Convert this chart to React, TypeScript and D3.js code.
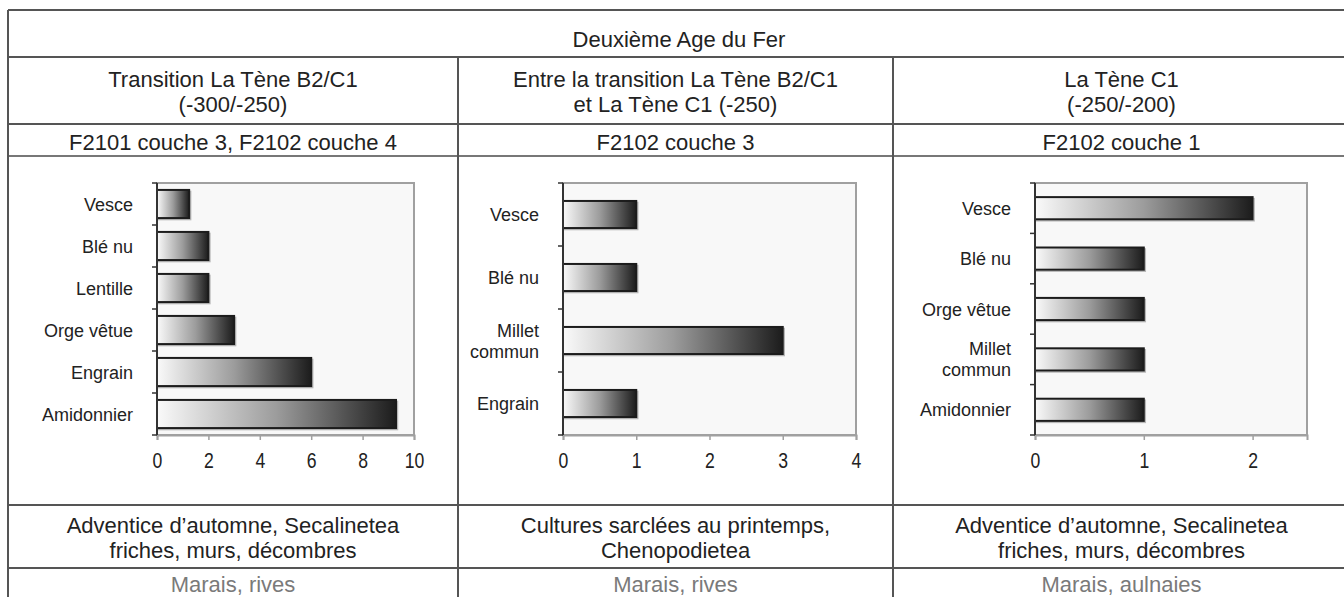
import React, { useEffect, useRef } from 'react';
import * as d3 from 'd3';

// Table texts
const titleText = 'Deuxième Age du Fer';
const periodLabels = [
  ['Transition La Tène B2/C1', '(-300/-250)'],
  ['Entre la transition La Tène B2/C1', 'et La Tène C1 (-250)'],
  ['La Tène C1', '(-250/-200)'],
];
const contextLabels = ['F2101 couche 3, F2102 couche 4', 'F2102 couche 3', 'F2102 couche 1'];
const ecologyLabels = [
  ['Adventice d’automne, Secalinetea', 'friches, murs, décombres'],
  ['Cultures sarclées au printemps,', 'Chenopodietea'],
  ['Adventice d’automne, Secalinetea', 'friches, murs, décombres'],
];
const habitatLabels = ['Marais, rives', 'Marais, rives', 'Marais, aulnaies'];

// Chart data
const chart1Categories = ['Vesce', 'Blé nu', 'Lentille', 'Orge vêtue', 'Engrain', 'Amidonnier'];
const chart1Values = [1.25, 2, 2, 3, 6, 9.3];
const chart1Ticks = [0, 2, 4, 6, 8, 10];
const chart1Max = 10;

const chart2Categories = ['Vesce', 'Blé nu', 'Millet\ncommun', 'Engrain'];
const chart2Values = [1, 1, 3, 1];
const chart2Ticks = [0, 1, 2, 3, 4];
const chart2Max = 4;

const chart3Categories = ['Vesce', 'Blé nu', 'Orge vêtue', 'Millet\ncommun', 'Amidonnier'];
const chart3Values = [2, 1, 1, 1, 1];
const chart3Ticks = [0, 1, 2];
const chart3Max = 2.5;

const W = 1344;
const H = 597;
const FONT = '"Liberation Sans", Arial, sans-serif';

export default function App() {
  const svgRef = useRef<SVGSVGElement>(null);

  useEffect(() => {
    if (!svgRef.current) return;
    const svg = d3.select(svgRef.current);
    svg.selectAll('*').remove();

    // table geometry
    const colX = [8, 458, 893, 1350];
    const rowY = [10, 57, 124, 156, 505, 568];
    const lineColor = '#555';

    const defs = svg.append('defs');
    const grad = defs.append('linearGradient')
      .attr('id', 'barGrad')
      .attr('x1', '0').attr('x2', '1').attr('y1', '0').attr('y2', '0');
    grad.append('stop').attr('offset', '0%').attr('stop-color', '#fafafa');
    grad.append('stop').attr('offset', '50%').attr('stop-color', '#9c9c9c');
    grad.append('stop').attr('offset', '100%').attr('stop-color', '#1c1c1c');

    const table = svg.append('g');

    // horizontal rules
    rowY.forEach((y, i) => {
      table.append('line')
        .attr('x1', colX[0]).attr('x2', colX[3])
        .attr('y1', y).attr('y2', y)
        .attr('stroke', i === 3 ? '#777' : lineColor)
        .attr('stroke-width', 2);
    });
    // outer left border
    table.append('line')
      .attr('x1', colX[0]).attr('x2', colX[0])
      .attr('y1', rowY[0]).attr('y2', H)
      .attr('stroke', lineColor).attr('stroke-width', 2);
    // column separators (below title row)
    [colX[1], colX[2]].forEach(x => {
      table.append('line')
        .attr('x1', x).attr('x2', x)
        .attr('y1', rowY[1]).attr('y2', H)
        .attr('stroke', lineColor).attr('stroke-width', 2);
    });

    const addText = (x: number, y: number, txt: string, size: number, color = '#222') =>
      table.append('text')
        .attr('x', x).attr('y', y)
        .attr('text-anchor', 'middle')
        .attr('font-family', FONT)
        .attr('font-size', size)
        .attr('fill', color)
        .text(txt);

    addText((colX[0] + colX[3]) / 2, 47, titleText, 22);

    for (let c = 0; c < 3; c++) {
      const cx = (colX[c] + colX[c + 1]) / 2;
      addText(cx, 87, periodLabels[c][0], 22);
      addText(cx, 112, periodLabels[c][1], 22);
      addText(cx, 150, contextLabels[c], 22);
      addText(cx, 533, ecologyLabels[c][0], 22);
      addText(cx, 558, ecologyLabels[c][1], 22);
      addText(cx, 592, habitatLabels[c], 22, '#7a7a7a');
    }

    // charts
    const charts = [
      { cats: chart1Categories, vals: chart1Values, ticks: chart1Ticks, max: chart1Max, left: 157, right: 414, pad: 0.33 },
      { cats: chart2Categories, vals: chart2Values, ticks: chart2Ticks, max: chart2Max, left: 563, right: 856, pad: 0.57 },
      { cats: chart3Categories, vals: chart3Values, ticks: chart3Ticks, max: chart3Max, left: 1035, right: 1307, pad: 0.56 },
    ];
    const top = 183;
    const bottom = 435;

    charts.forEach(ch => {
      const g = svg.append('g');
      const x = d3.scaleLinear().domain([0, ch.max]).range([ch.left, ch.right]);
      const y = d3.scaleBand<string>().domain(ch.cats).range([top, bottom])
        .paddingInner(ch.pad).paddingOuter(ch.pad / 2);
      const yTicks = d3.scaleBand<string>().domain(ch.cats).range([top, bottom]);

      // plot area
      g.append('rect')
        .attr('x', ch.left).attr('y', top)
        .attr('width', ch.right - ch.left).attr('height', bottom - top)
        .attr('fill', '#f8f8f8')
        .attr('stroke', '#a0a0a0').attr('stroke-width', 2);

      // bars: shadow then bar
      g.selectAll('.shadow')
        .data(ch.vals)
        .enter()
        .append('rect')
        .attr('x', x(0) + 1.5)
        .attr('y', (d, i) => y(ch.cats[i])! + 1.5)
        .attr('width', d => x(d) - x(0))
        .attr('height', y.bandwidth())
        .attr('fill', 'none')
        .attr('stroke', '#b8b8b8')
        .attr('stroke-width', 1.5);

      g.selectAll('.bar')
        .data(ch.vals)
        .enter()
        .append('rect')
        .attr('x', x(0))
        .attr('y', (d, i) => y(ch.cats[i])!)
        .attr('width', d => x(d) - x(0))
        .attr('height', y.bandwidth())
        .attr('fill', 'url(#barGrad)')
        .attr('stroke', '#1c1c1c')
        .attr('stroke-width', 2);

      // x axis
      g.append('g')
        .attr('transform', `translate(0,${bottom})`)
        .call(d3.axisBottom(x).tickValues(ch.ticks).tickSize(5).tickPadding(12).tickFormat(d3.format('d') as any))
        .call(a => a.select('.domain').attr('stroke', '#a0a0a0').attr('stroke-width', 2))
        .call(a => a.selectAll('.tick line').attr('stroke', '#a0a0a0').attr('stroke-width', 1.5))
        .call(a => a.selectAll('.tick text')
          .attr('fill', '#222')
          .attr('font-family', FONT)
          .attr('font-size', 22)
          .attr('transform', 'scale(0.8,1)'));

      // y axis line + category ticks (band edges)
      const yEdges = ch.cats.map(c => yTicks(c)!).concat([bottom]);
      g.append('line')
        .attr('x1', ch.left).attr('x2', ch.left)
        .attr('y1', top).attr('y2', bottom)
        .attr('stroke', '#333').attr('stroke-width', 2);
      g.selectAll('.ytick')
        .data(yEdges)
        .enter()
        .append('line')
        .attr('x1', ch.left - 5).attr('x2', ch.left)
        .attr('y1', d => d).attr('y2', d => d)
        .attr('stroke', '#333').attr('stroke-width', 1.5);

      // category labels
      ch.cats.forEach(c => {
        const lines = c.split('\n');
        const cy = yTicks(c)! + yTicks.bandwidth() / 2;
        const lh = 21;
        const t = g.append('text')
          .attr('text-anchor', 'end')
          .attr('font-family', FONT)
          .attr('font-size', 18)
          .attr('fill', '#222');
        lines.forEach((ln, i) => {
          t.append('tspan')
            .attr('x', ch.left - 24)
            .attr('y', cy + 6.5 + (i - (lines.length - 1) / 2) * lh)
            .text(ln);
        });
      });
    });
  }, []);

  return (
    <svg
      ref={svgRef}
      width={W}
      height={H}
      style={{ position: 'absolute', left: 0, top: 0, background: '#fff', display: 'block' }}
    />
  );
}
